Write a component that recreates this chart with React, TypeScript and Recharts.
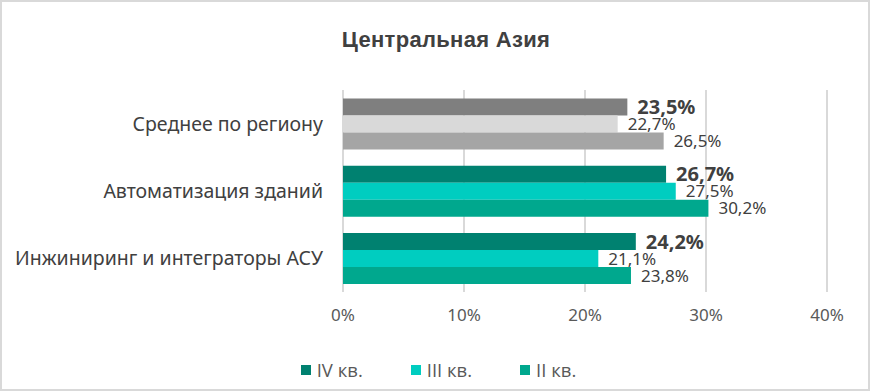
import { Bar, BarChart, CartesianGrid, Cell, LabelList, Legend, XAxis, YAxis } from "recharts";

const categories = ["Среднее по региону", "Автоматизация зданий", "Инжиниринг и интеграторы АСУ"];
const q4 = [23.5, 26.7, 24.2];
const q3 = [22.7, 27.5, 21.1];
const q2 = [26.5, 30.2, 23.8];
const xTicks = [0, 10, 20, 30, 40];

const seriesNames = ["IV кв.", "III кв.", "II кв."];
const tealColors = ["#008170", "#00cdc0", "#00a88e"];
const greyColors = ["#7f7f7f", "#d9d9d9", "#a5a5a5"];

const data = categories.map((name, i) => ({ name, q4: q4[i], q3: q3[i], q2: q2[i] }));

const FONT = "'Noto Sans', sans-serif";
const fmt = (v: number) => `${v.toFixed(1).replace(".", ",")}%`;

function ChartLegend() {
  return (
    <div
      style={{
        display: "flex",
        justifyContent: "center",
        alignItems: "flex-end",
        height: 58,
        gap: 48,
        paddingLeft: 50,
        fontFamily: "'Open Sans', 'Noto Sans', sans-serif",
        fontSize: 18.5,
        color: "#595959",
      }}
    >
      {seriesNames.map((s, i) => (
        <span key={s} style={{ display: "flex", alignItems: "center", gap: 6, lineHeight: "20px" }}>
          <span style={{ width: 10, height: 10, background: tealColors[i] }} />
          {s}
        </span>
      ))}
    </div>
  );
}

export default function App() {
  const keys = ["q4", "q3", "q2"];
  return (
    <div
      style={{
        position: "fixed",
        top: 0,
        left: 0,
        width: 870,
        height: 391,
        boxSizing: "border-box",
        border: "2px solid #d9d9d9",
        background: "#fff",
      }}
    >
      <div
        style={{
          position: "absolute",
          top: 25,
          left: 7,
          width: 874,
          textAlign: "center",
          fontFamily: "'Liberation Sans', Arial, sans-serif",
          fontWeight: 700,
          fontSize: 22,
          letterSpacing: 0.3,
          color: "#404040",
        }}
      >
        Центральная Азия
      </div>
      <div style={{ position: "absolute", top: -2, left: -2 }}>
        <BarChart
          width={870}
          height={391}
          data={data}
          layout="vertical"
          margin={{ top: 90, right: 43, bottom: 11, left: 0 }}
          barCategoryGap="12.5%"
          barGap={0}
        >
          <CartesianGrid horizontal={false} stroke="#d9d9d9" strokeWidth={2} />
          <XAxis
            type="number"
            domain={[0, 40]}
            ticks={xTicks}
            tickFormatter={(v) => `${v}%`}
            axisLine={false}
            tickLine={false}
            height={30}
            tickMargin={11}
            tick={{ fill: "#595959", fontSize: 17, fontFamily: FONT }}
          />
          <YAxis
            type="category"
            dataKey="name"
            width={343}
            axisLine={false}
            tickLine={false}
            tickSize={0}
            tickMargin={20}
            tick={{ fill: "#404040", fontSize: 19.5, fontFamily: FONT }}
          />
          <Legend verticalAlign="bottom" height={58} content={<ChartLegend />} />
          {keys.map((k, si) => (
            <Bar key={k} dataKey={k} name={seriesNames[si]} fill={tealColors[si]} isAnimationActive={false}>
              {data.map((d, ci) => (
                <Cell key={d.name} fill={ci === 0 ? greyColors[si] : tealColors[si]} />
              ))}
              <LabelList
                dataKey={k}
                position="right"
                offset={10}
                formatter={(v: any) => fmt(Number(v))}
                style={{
                  fill: "#404040",
                  fontFamily: FONT,
                  fontSize: si === 0 ? 20 : 17,
                  fontWeight: si === 0 ? 700 : 400,
                }}
              />
            </Bar>
          ))}
        </BarChart>
      </div>
    </div>
  );
}
